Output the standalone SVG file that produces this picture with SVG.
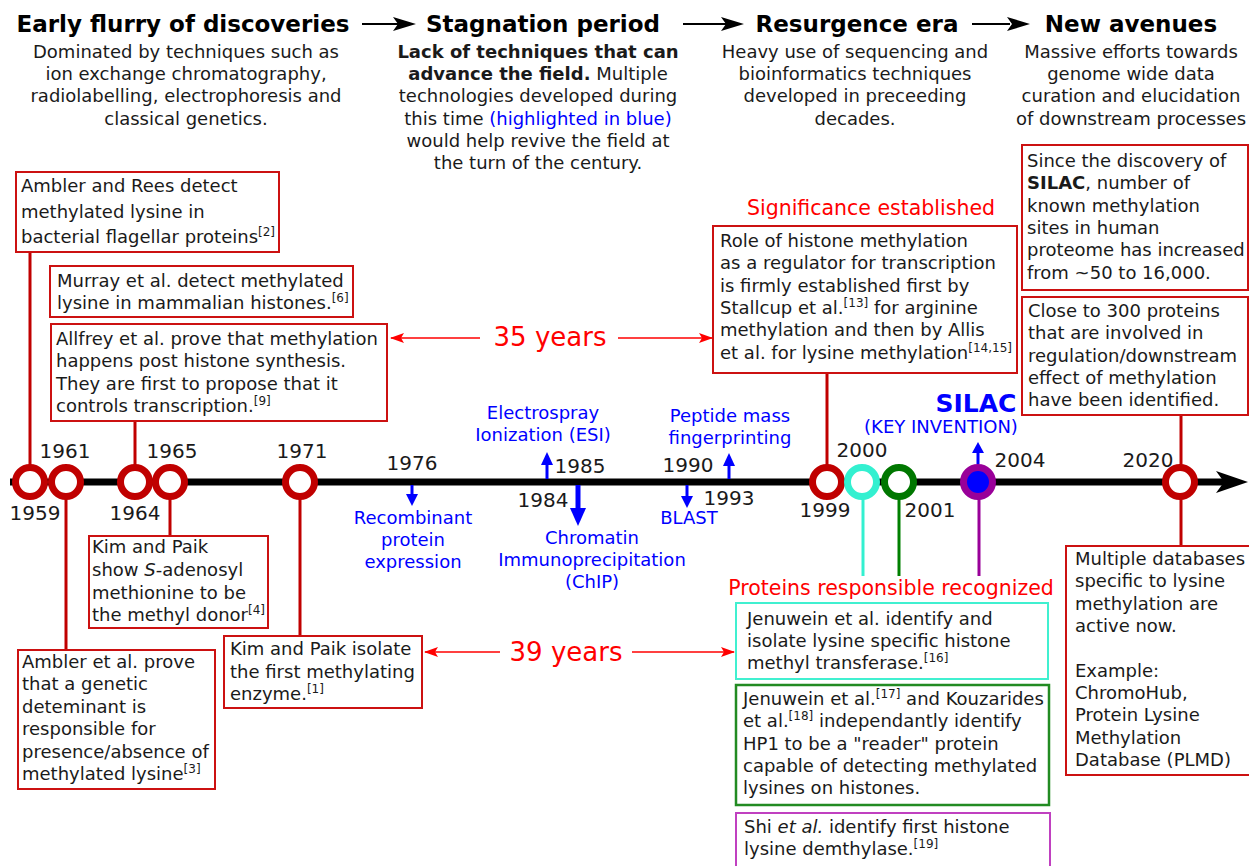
<svg xmlns="http://www.w3.org/2000/svg" width="1249" height="866" viewBox="0 0 1249 866">
<defs>
<style>
text{font-family:"DejaVu Sans","Noto Sans",sans-serif;fill:#1a1a1a}
.t{font-size:23px;font-weight:bold;text-anchor:middle;fill:#000}
.d{font-size:18px;text-anchor:middle}
.b{font-weight:bold}
.bl{fill:#0000ff}
.bx{font-size:18px}
.yr{font-size:20px;text-anchor:middle}
.tech{font-size:18px;fill:#0000ff;text-anchor:middle}
.sup{font-size:12px}
.red{fill:#ff0000}
.box{fill:#fff;stroke:#cc1111;stroke-width:2}
.conn{stroke:#c00000;stroke-width:3;fill:none}
.circ{fill:#fff;stroke:#c00000;stroke-width:7}
</style>
<marker id="rh" markerWidth="14" markerHeight="10" refX="13" refY="5" orient="auto" markerUnits="userSpaceOnUse">
<path d="M0,0 L14,5 L0,10 L3,5 z" fill="#ff0000"/>
</marker>
</defs>
<rect width="1249" height="866" fill="#fff"/>

<g id="headers">
<text class="t" x="183" y="32">Early flurry of discoveries</text>
<text class="t" x="543" y="32">Stagnation period</text>
<text class="t" x="857" y="32">Resurgence era</text>
<text class="t" x="1131" y="32">New avenues</text>
<g stroke="#000" stroke-width="2"><line x1="362" y1="24" x2="400" y2="24"/><line x1="683" y1="24" x2="728" y2="24"/><line x1="972" y1="24" x2="1010" y2="24"/></g>
<g fill="#000"><path d="M416,24 L393,17 L398,24 L393,31 z"/><path d="M744,24 L721,17 L726,24 L721,31 z"/><path d="M1030,24 L1007,17 L1012,24 L1007,31 z"/></g>
<text class="d" x="186"><tspan x="186" y="58">Dominated by techniques such as</tspan><tspan x="186" y="80.2">ion exchange chromatography,</tspan><tspan x="186" y="102.4">radiolabelling, electrophoresis and</tspan><tspan x="186" y="124.6">classical genetics.</tspan></text>
<text class="d" x="538"><tspan x="538" y="58" class="b">Lack of techniques that can</tspan><tspan x="538" y="80.2"><tspan class="b">advance the field.</tspan> Multiple</tspan><tspan x="538" y="102.4">technologies developed during</tspan><tspan x="538" y="124.6">this time <tspan class="bl">(highlighted in blue)</tspan></tspan><tspan x="538" y="146.8">would help revive the field at</tspan><tspan x="538" y="169">the turn of the century.</tspan></text>
<text class="d" x="855"><tspan x="855" y="58">Heavy use of sequencing and</tspan><tspan x="855" y="80.2">bioinformatics techniques</tspan><tspan x="855" y="102.4">developed in preceeding</tspan><tspan x="855" y="124.6">decades.</tspan></text>
<text class="d" x="1131"><tspan x="1131" y="58">Massive efforts towards</tspan><tspan x="1131" y="80.2">genome wide data</tspan><tspan x="1131" y="102.4">curation and elucidation</tspan><tspan x="1131" y="124.6">of downstream processes</tspan></text>
</g>

<g id="connectors">
<line class="conn" x1="30" y1="252" x2="30" y2="482"/>
<line class="conn" x1="66" y1="482" x2="66" y2="650"/>
<line class="conn" x1="135" y1="421" x2="135" y2="482"/>
<line class="conn" x1="170" y1="482" x2="170" y2="536"/>
<line class="conn" x1="300" y1="482" x2="300" y2="636"/>
<line class="conn" x1="827" y1="373" x2="827" y2="482"/>
<line x1="863" y1="482" x2="863" y2="576" stroke="#33f0d0" stroke-width="3"/>
<line x1="899" y1="482" x2="899" y2="576" stroke="#008000" stroke-width="3"/>
<line x1="979" y1="482" x2="979" y2="576" stroke="#990099" stroke-width="3"/>
<line class="conn" x1="1181" y1="415" x2="1181" y2="546"/>
<line x1="480" y1="338" x2="391" y2="338" stroke="#ff0000" stroke-width="1.5" marker-end="url(#rh)"/>
<line x1="618" y1="338" x2="712" y2="338" stroke="#ff0000" stroke-width="1.5" marker-end="url(#rh)"/>
<line x1="500" y1="652" x2="425" y2="652" stroke="#ff0000" stroke-width="1.5" marker-end="url(#rh)"/>
<line x1="632" y1="652" x2="734" y2="652" stroke="#ff0000" stroke-width="1.5" marker-end="url(#rh)"/>
</g>

<g id="timeline">
<line x1="10" y1="482" x2="1225" y2="482" stroke="#000" stroke-width="7"/>
<path d="M1248,482 L1216,471 L1224,482 L1216,493 z" fill="#000"/>
</g>

<g id="span-labels">
<text x="550" y="346" font-size="26" text-anchor="middle" class="red">35 years</text>
<text x="566" y="661" font-size="26" text-anchor="middle" class="red">39 years</text>
<text x="871" y="215" font-size="20.5" text-anchor="middle" class="red">Significance established</text>
<text x="891" y="595" font-size="20.5" text-anchor="middle" class="red">Proteins responsible recognized</text>
</g>

<g id="y1959"><circle class="circ" cx="30" cy="482" r="14.5"/><text class="yr" x="35" y="520">1959</text></g>
<g id="y1961"><circle class="circ" cx="66" cy="482" r="14.5"/><text class="yr" x="65" y="458">1961</text></g>
<g id="y1964"><circle class="circ" cx="135" cy="482" r="14.5"/><text class="yr" x="135" y="520">1964</text></g>
<g id="y1965"><circle class="circ" cx="170" cy="482" r="14.5"/><text class="yr" x="172" y="458">1965</text></g>
<g id="y1971"><circle class="circ" cx="300" cy="482" r="14.5"/><text class="yr" x="302" y="458">1971</text></g>
<g id="y1999"><circle class="circ" cx="827" cy="482" r="14.5"/><text class="yr" x="825" y="517">1999</text></g>
<g id="y2000"><circle cx="862" cy="482" r="14.5" fill="#fff" stroke="#33f0d0" stroke-width="7"/><text class="yr" x="862" y="457">2000</text></g>
<g id="y2001"><circle cx="899" cy="482" r="14.5" fill="#fff" stroke="#007700" stroke-width="7"/><text class="yr" x="930" y="517">2001</text></g>
<g id="y2004"><circle cx="978" cy="482" r="14.5" fill="#0000ff" stroke="#990099" stroke-width="7"/>
<line x1="978" y1="464" x2="978" y2="452" stroke="#0000ff" stroke-width="3"/><path d="M978,442 L972,453 L984,453 z" fill="#0000ff"/>
<text class="yr" x="1020" y="467">2004</text>
<text x="976" y="412" font-size="25" font-weight="bold" text-anchor="middle" class="bl">SILAC</text>
<text class="tech" x="941" y="433">(KEY INVENTION)</text></g>
<g id="y2020"><circle class="circ" cx="1180" cy="482" r="14.5"/><text class="yr" x="1148" y="467">2020</text></g>

<g id="t1976"><line x1="412" y1="485" x2="412" y2="496" stroke="#0000ff" stroke-width="3"/><path d="M412,506 L406,494 L418,494 z" fill="#0000ff"/>
<text class="yr" x="412" y="470">1976</text>
<text class="tech"><tspan x="413" y="524">Recombinant</tspan><tspan x="413" y="546">protein</tspan><tspan x="413" y="568">expression</tspan></text></g>
<g id="t1984"><line x1="547" y1="479" x2="547" y2="464" stroke="#0000ff" stroke-width="3"/><path d="M547,452 L541,465 L553,465 z" fill="#0000ff"/>
<text class="yr" x="543" y="507">1984</text>
<text class="tech"><tspan x="543" y="419">Electrospray</tspan><tspan x="543" y="441">Ionization (ESI)</tspan></text></g>
<g id="t1985"><line x1="578" y1="485" x2="578" y2="510" stroke="#0000ff" stroke-width="5"/><path d="M578,526 L570,508 L586,508 z" fill="#0000ff"/>
<text class="yr" x="580" y="473">1985</text>
<text class="tech"><tspan x="592" y="544">Chromatin</tspan><tspan x="592" y="566">Immunoprecipitation</tspan><tspan x="592" y="588">(ChIP)</tspan></text></g>
<g id="t1990"><line x1="687" y1="485" x2="687" y2="497" stroke="#0000ff" stroke-width="3"/><path d="M687,508 L681,496 L693,496 z" fill="#0000ff"/>
<text class="yr" x="688" y="472">1990</text>
<text class="tech" x="689" y="524">BLAST</text></g>
<g id="t1993"><line x1="729" y1="479" x2="729" y2="465" stroke="#0000ff" stroke-width="3"/><path d="M729,453 L723,466 L735,466 z" fill="#0000ff"/>
<text class="yr" x="729" y="505">1993</text>
<text class="tech"><tspan x="730" y="422">Peptide mass</tspan><tspan x="730" y="444">fingerprinting</tspan></text></g>

<g id="n-ambler-rees"><rect class="box" x="16" y="172" width="263" height="80"/>
<text class="bx"><tspan x="21" y="192">Ambler and Rees detect</tspan><tspan x="21" y="217.5">methylated lysine in</tspan><tspan x="21" y="243">bacterial flagellar proteins<tspan class="sup" dy="-7">[2]</tspan></tspan></text></g>
<g id="n-murray"><rect class="box" x="50" y="266" width="303" height="51"/>
<text class="bx"><tspan x="57" y="287">Murray et al. detect methylated</tspan><tspan x="57" y="309">lysine in mammalian histones.<tspan class="sup" dy="-7">[6]</tspan></tspan></text></g>
<g id="n-allfrey"><rect class="box" x="51" y="324" width="336" height="97"/>
<text class="bx"><tspan x="56" y="345">Allfrey et al. prove that methylation</tspan><tspan x="56" y="367.3">happens post histone synthesis.</tspan><tspan x="56" y="389.6">They are first to propose that it</tspan><tspan x="56" y="412">controls transcription.<tspan class="sup" dy="-7">[9]</tspan></tspan></text></g>
<g id="n-kim-sam"><rect class="box" x="89" y="536" width="179" height="92"/>
<text class="bx"><tspan x="92" y="553">Kim and Paik</tspan><tspan x="92" y="576">show <tspan font-style="italic">S</tspan>-adenosyl</tspan><tspan x="92" y="599">methionine to be</tspan><tspan x="92" y="621">the methyl donor<tspan class="sup" dy="-7">[4]</tspan></tspan></text></g>
<g id="n-ambler-genetic"><rect class="box" x="18" y="650" width="197" height="139"/>
<text class="bx"><tspan x="22" y="668">Ambler et al. prove</tspan><tspan x="22" y="690.4">that a genetic</tspan><tspan x="22" y="712.8">deteminant is</tspan><tspan x="22" y="735.2">responsible for</tspan><tspan x="22" y="757.6">presence/absence of</tspan><tspan x="22" y="780">methylated lysine<tspan class="sup" dy="-7">[3]</tspan></tspan></text></g>
<g id="n-kim-enzyme"><rect class="box" x="224" y="636" width="198" height="72"/>
<text class="bx"><tspan x="230" y="655">Kim and Paik isolate</tspan><tspan x="230" y="677.5">the first methylating</tspan><tspan x="230" y="700">enzyme.<tspan class="sup" dy="-7">[1]</tspan></tspan></text></g>
<g id="n-role"><rect class="box" x="713" y="226" width="304" height="147" stroke="#c00000" stroke-width="2.5"/>
<text class="bx"><tspan x="720" y="247">Role of histone methylation</tspan><tspan x="720" y="269.3">as a regulator for transcription</tspan><tspan x="720" y="291.6">is firmly established first by</tspan><tspan x="720" y="314">Stallcup et al.<tspan class="sup" dy="-7">[13]</tspan><tspan dy="7"> for arginine</tspan></tspan><tspan x="720" y="336.3">methylation and then by Allis</tspan><tspan x="720" y="358.6">et al. for lysine methylation<tspan class="sup" dy="-7">[14,15]</tspan></tspan></text></g>
<g id="n-silac-sites"><rect class="box" x="1022" y="145" width="226" height="145" stroke="#c00000" stroke-width="2.5"/>
<text class="bx"><tspan x="1027" y="167">Since the discovery of</tspan><tspan x="1027" y="189.3"><tspan class="b">SILAC</tspan>, number of</tspan><tspan x="1027" y="211.6">known methylation</tspan><tspan x="1027" y="234">sites in human</tspan><tspan x="1027" y="256.3">proteome has increased</tspan><tspan x="1027" y="278.6">from ~50 to 16,000.</tspan></text></g>
<g id="n-300"><rect class="box" x="1022" y="297" width="226" height="118" stroke="#c00000" stroke-width="2.5"/>
<text class="bx"><tspan x="1028" y="317">Close to 300 proteins</tspan><tspan x="1028" y="339.3">that are involved in</tspan><tspan x="1028" y="361.6">regulation/downstream</tspan><tspan x="1028" y="384">effect of methylation</tspan><tspan x="1028" y="406.3">have been identified.</tspan></text></g>
<g id="n-databases"><rect class="box" x="1066" y="546" width="190" height="229" stroke="#c00000" stroke-width="2.5"/>
<text class="bx"><tspan x="1075" y="565">Multiple databases</tspan><tspan x="1075" y="587.3">specific to lysine</tspan><tspan x="1075" y="609.6">methylation are</tspan><tspan x="1075" y="632">active now.</tspan><tspan x="1075" y="676.6">Example:</tspan><tspan x="1075" y="699">ChromoHub,</tspan><tspan x="1075" y="721.3">Protein Lysine</tspan><tspan x="1075" y="743.6">Methylation</tspan><tspan x="1075" y="766">Database (PLMD)</tspan></text></g>
<g id="n-hmt"><rect x="736" y="603" width="312" height="76" fill="#fff" stroke="#40f0d0" stroke-width="2"/>
<text class="bx"><tspan x="747" y="625">Jenuwein et al. identify and</tspan><tspan x="747" y="647">isolate lysine specific histone</tspan><tspan x="747" y="669">methyl transferase.<tspan class="sup" dy="-7">[16]</tspan></tspan></text></g>
<g id="n-hp1"><rect x="736" y="685" width="313" height="120" fill="#fff" stroke="#228b22" stroke-width="2.5"/>
<text class="bx"><tspan x="743" y="705">Jenuwein et al.<tspan class="sup" dy="-7">[17]</tspan><tspan dy="7"> and Kouzarides</tspan></tspan><tspan x="743" y="727">et al.<tspan class="sup" dy="-7">[18]</tspan><tspan dy="7"> independantly identify</tspan></tspan><tspan x="743" y="749.5">HP1 to be a "reader" protein</tspan><tspan x="743" y="772">capable of detecting methylated</tspan><tspan x="743" y="794">lysines on histones.</tspan></text></g>
<g id="n-demethylase"><rect x="736" y="813" width="314" height="60" fill="#fff" stroke="#c040c0" stroke-width="2"/>
<text class="bx"><tspan x="744" y="833">Shi <tspan font-style="italic">et al.</tspan> identify first histone</tspan><tspan x="744" y="855">lysine demthylase.<tspan class="sup" dy="-7">[19]</tspan></tspan></text></g>
</svg>
